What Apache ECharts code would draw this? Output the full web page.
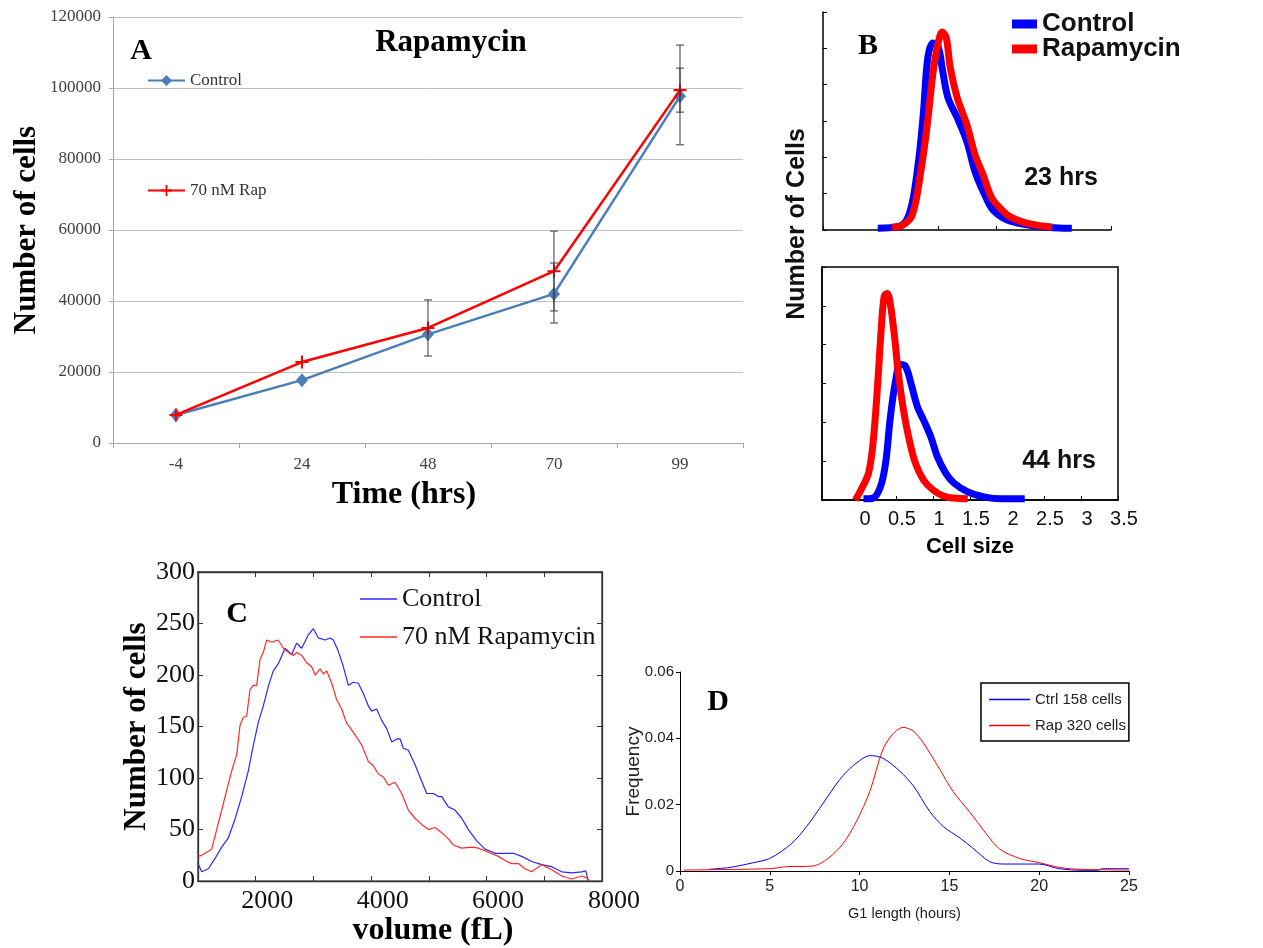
<!DOCTYPE html>
<html><head><meta charset="utf-8">
<script src="https://cdn.jsdelivr.net/npm/echarts@6/dist/echarts.min.js"></script>
<style>html,body{margin:0;padding:0;background:#fff}#c{width:1263px;height:948px}</style>
</head><body><div id="c"></div>
<script>
// ---------- Panel A ----------
const timeLabels = ['-4', '24', '48', '70', '99'];
const aControl = [7900, 17700, 30600, 42000, 97700];
const aRap = [7900, 22800, 32400, 48400, 99400];
const aErrRap = [[2, 24500, 40300], [3, 37200, 59700], [4, 93200, 105600]];
const aErrCtrl = [[3, 33800, 50700], [4, 84000, 112100]];
// ---------- Panel B (23 hrs) ----------
const bTopCtrl = [[-0.05,0.05],[0.34,0.11],[0.51,0.5],[0.65,1.79],[0.74,3.17],[0.82,4.74],[0.91,5.15],[1.0,5.04],[1.08,4.35],[1.17,3.64],[1.33,3.09],[1.5,2.42],[1.64,1.6],[1.81,0.96],[1.95,0.55],[2.19,0.28],[2.54,0.14],[2.82,0.08],[3.17,0.05],[3.32,0.05]];
const bTopRap = [[0.2,0.08],[0.39,0.14],[0.55,0.41],[0.69,1.52],[0.81,2.89],[0.91,4.33],[1.0,5.15],[1.07,5.45],[1.14,5.29],[1.21,4.46],[1.33,3.64],[1.5,2.89],[1.64,2.07],[1.78,1.52],[1.93,0.88],[2.07,0.61],[2.25,0.36],[2.54,0.19],[2.8,0.11],[2.98,0.08]];
// ---------- Panel B (44 hrs) ----------
const bBotCtrl = [[0.06,0.03],[0.19,0.05],[0.29,0.34],[0.36,0.96],[0.42,2.07],[0.49,3.02],[0.56,3.49],[0.63,3.44],[0.7,3.02],[0.79,2.4],[0.87,2.07],[0.97,1.63],[1.06,1.11],[1.17,0.7],[1.28,0.44],[1.47,0.21],[1.69,0.08],[1.92,0.03],[2.19,0.03],[2.24,0.03]];
const bBotRap = [[-0.05,0],[0.04,0.31],[0.13,0.7],[0.19,1.47],[0.25,2.92],[0.3,4.39],[0.34,5.24],[0.38,5.32],[0.42,5.09],[0.48,4.21],[0.53,3.28],[0.6,2.33],[0.67,1.63],[0.76,0.96],[0.87,0.52],[1.0,0.26],[1.14,0.1],[1.28,0.05],[1.47,0.03]];
const bSizeTicks = ['0', '0.5', '1', '1.5', '2', '2.5', '3', '3.5'];
// ---------- Panel C ----------
const cCtrl = [[800,17],[864,9],[980,12],[1095,22],[1211,33],[1326,42],[1441,60],[1557,82],[1672,107],[1759,132],[1845,154],[1932,170],[2018,189],[2105,204],[2192,211],[2308,226],[2423,220],[2510,231],[2597,226],[2712,239],[2799,245],[2886,236],[3001,234],[3088,236],[3145,234],[3232,223],[3319,208],[3405,190],[3492,193],[3578,192],[3665,182],[3752,170],[3810,165],[3897,167],[3983,156],[4070,148],[4157,135],[4243,138],[4301,138],[4359,129],[4445,127],[4561,113],[4676,97],[4763,85],[4878,85],[4965,82],[5023,82],[5138,72],[5254,69],[5370,61],[5484,50],[5629,39],[5774,31],[5947,27],[6120,27],[6264,27],[6409,24],[6582,19],[6756,16],[6929,14],[7103,9],[7276,8],[7449,9],[7518,10],[7564,0]];
const cRap = [[800,24],[864,25],[980,29],[1037,31],[1124,50],[1211,69],[1297,88],[1384,107],[1471,123],[1528,151],[1586,159],[1644,160],[1701,186],[1759,190],[1817,190],[1874,215],[1932,222],[1990,234],[2076,232],[2192,234],[2278,226],[2365,222],[2452,219],[2510,222],[2597,219],[2683,212],[2770,208],[2828,200],[2914,206],[2972,201],[3030,204],[3117,192],[3203,176],[3290,167],[3377,153],[3434,149],[3521,142],[3636,132],[3752,116],[3839,112],[3925,104],[4012,101],[4099,93],[4214,96],[4330,85],[4445,69],[4561,61],[4676,55],[4792,50],[4907,52],[5023,47],[5138,41],[5225,35],[5370,32],[5543,33],[5658,32],[5831,28],[6004,24],[6120,20],[6236,17],[6351,17],[6467,12],[6582,9],[6756,16],[6929,11],[7103,5],[7276,2],[7449,5],[7535,3],[7593,0]];
const cVolTicks = [1800, 2800, 3800, 4800, 5800, 6800];
const cVolLabels = [2000, 4000, 6000, 7800];
// ---------- Panel D ----------
const dCtrl = [[1.6,0.0005],[2.8,0.0011],[4.08,0.0025],[5.0,0.0038],[6.2,0.0082],[7.05,0.0134],[7.98,0.0205],[8.9,0.0276],[9.65,0.0318],[10.6,0.0348],[11.3,0.034],[12.24,0.0301],[13.0,0.0256],[13.9,0.018],[14.66,0.0134],[15.6,0.0099],[16.3,0.0069],[17.25,0.0028],[18.0,0.0021],[20.0,0.0021],[21.1,0.0007],[22.5,0.0002],[23.3,0.0002],[23.5,0.0007],[25,0.0007]];
const dRap = [[0.2,0.0003],[5,0.0007],[5.94,0.0013],[7.4,0.0015],[8.25,0.0038],[9.1,0.0084],[9.83,0.015],[10.57,0.024],[11.3,0.0367],[11.87,0.0414],[12.43,0.0433],[12.99,0.0422],[13.54,0.0387],[14.47,0.0306],[15.2,0.024],[16.1,0.018],[17.1,0.0109],[17.8,0.0066],[18.9,0.0038],[20.0,0.0025],[21.2,0.001],[22.3,0.0005],[25,0.0003]];

const SERIF = "'Liberation Serif','Times New Roman',serif";
const SANS = "'Liberation Sans',Arial,sans-serif";
const NARROW = "'Liberation Sans Narrow','Liberation Sans',Arial,sans-serif";
const strip = n => n.split('|')[1];
const plusPath = 'path://M4.2,0H5.8V4.2H10V5.8H5.8V10H4.2V5.8H0V4.2H4.2Z';

function errBar(params, api) {
  const x = api.value(0), lo = api.value(1), hi = api.value(2);
  const p1 = api.coord([x, lo]), p2 = api.coord([x, hi]);
  const w = 4, st = {stroke: '#3a3a3a', lineWidth: 1};
  return {type: 'group', children: [
    {type: 'line', shape: {x1: p1[0], y1: p1[1], x2: p2[0], y2: p2[1]}, style: st},
    {type: 'line', shape: {x1: p1[0]-w, y1: p1[1], x2: p1[0]+w, y2: p1[1]}, style: st},
    {type: 'line', shape: {x1: p2[0]-w, y1: p2[1], x2: p2[0]+w, y2: p2[1]}, style: st}
  ]};
}

const chart = echarts.init(document.getElementById('c'), null, {renderer: 'canvas'});
const blk = {onZero: false, lineStyle: {color: '#000', width: 1.5}};
const option = {
  animation: false,
  backgroundColor: '#fff',
  grid: [
    {left: 110, top: 17, width: 633, height: 426},
    {left: 823, top: 12, width: 288, height: 218},
    {left: 822, top: 267, width: 296, height: 233, show: true, borderColor: '#000', borderWidth: 1.5},
    {left: 198, top: 572, width: 404, height: 318, show: true, borderColor: '#333', borderWidth: 1.3},
    {left: 680, top: 672, width: 449, height: 199}
  ],
  xAxis: [
    {gridIndex: 0, type: 'category', data: timeLabels, boundaryGap: true,
     axisLine: {lineStyle: {color: '#a6a6a6', width: 1}},
     axisTick: {show: true, length: 5, lineStyle: {color: '#a6a6a6'}},
     axisLabel: {fontFamily: SERIF, fontSize: 17, color: '#404040', margin: 13},
     name: 'Time (hrs)', nameLocation: 'middle', nameGap: 36,
     nameTextStyle: {fontFamily: SERIF, fontSize: 32, fontWeight: 'bold', color: '#000', padding: [0, 48, 0, 0]}},
    {gridIndex: 1, type: 'value', min: -1, max: 4, interval: 1,
     axisLine: blk, axisTick: {inside: true, length: 4, lineStyle: {color: '#000'}},
     axisLabel: {show: false}, splitLine: {show: false}},
    {gridIndex: 2, type: 'value', min: -0.5, max: 3.5, interval: 0.5,
     axisLine: blk, axisTick: {inside: true, length: 4, lineStyle: {color: '#000'}},
     axisLabel: {interval: 0, fontFamily: SANS, fontSize: 20, color: '#111', margin: 9, padding: [0, 0, 0, 12],
       formatter: v => v < 0 ? '' : bSizeTicks[Math.round(v * 2)]},
     splitLine: {show: false},
     name: 'Cell size', nameLocation: 'middle', nameGap: 36,
     nameTextStyle: {fontFamily: SANS, fontSize: 22, fontWeight: 'bold', color: '#000'}},
    {gridIndex: 3, type: 'value', min: 800, max: 7800, interval: 1000,
     axisLine: {onZero: false, lineStyle: {color: '#333', width: 1.3}},
     axisTick: {inside: true, length: 5, customValues: cVolTicks, lineStyle: {color: '#333'}},
     axisLabel: {customValues: cVolLabels, fontFamily: SERIF, fontSize: 26, color: '#111', margin: 7,
       formatter: v => v === 7800 ? '{s|8000}' : String(v),
       rich: {s: {fontFamily: SERIF, fontSize: 26, color: '#111', padding: [0, 0, 0, 24]}}},
     splitLine: {show: false},
     name: 'volume (fL)', nameLocation: 'middle', nameGap: 24,
     nameTextStyle: {fontFamily: SERIF, fontSize: 32, fontWeight: 'bold', color: '#000', padding: [0, 0, 0, 66]}},
    {gridIndex: 3, type: 'value', position: 'top', min: 800, max: 7800, interval: 1000,
     axisLine: {onZero: false, lineStyle: {color: '#333', width: 1.3}},
     axisTick: {inside: true, length: 5, customValues: cVolTicks, lineStyle: {color: '#333'}},
     axisLabel: {show: false}, splitLine: {show: false}},
    {gridIndex: 4, type: 'value', min: 0, max: 25, interval: 5,
     axisLine: {onZero: false, lineStyle: {color: '#000', width: 1}},
     axisTick: {inside: false, length: 4, lineStyle: {color: '#000'}},
     axisLabel: {fontFamily: NARROW, fontSize: 16, color: '#222', margin: 8},
     splitLine: {show: false},
     name: 'G1 length (hours)', nameLocation: 'middle', nameGap: 35,
     nameTextStyle: {fontFamily: NARROW, fontSize: 14.5, color: '#222'}}
  ],
  yAxis: [
    {gridIndex: 0, type: 'value', min: 0, max: 120000, interval: 20000,
     axisLine: {show: true, onZero: false, lineStyle: {color: '#a6a6a6', width: 1}},
     axisTick: {show: true, length: 4, lineStyle: {color: '#a6a6a6'}},
     axisLabel: {fontFamily: SERIF, fontSize: 17, color: '#404040', margin: 12, formatter: v => String(v)},
     splitLine: {lineStyle: {color: '#bfbfbf', width: 1}},
     name: 'Number of cells', nameLocation: 'middle', nameGap: 70,
     nameTextStyle: {fontFamily: SERIF, fontSize: 31, fontWeight: 'bold', color: '#000'}},
    {gridIndex: 1, type: 'value', min: 0, max: 6, interval: 1,
     axisLine: {show: true, onZero: false, lineStyle: {color: '#000', width: 1.5}},
     axisTick: {show: true, inside: true, length: 4, lineStyle: {color: '#000'}},
     axisLabel: {show: false}, splitLine: {show: false}},
    {gridIndex: 2, type: 'value', min: 0, max: 6, interval: 1,
     axisLine: {show: true, onZero: false, lineStyle: {color: '#000', width: 1.5}},
     axisTick: {show: true, inside: true, length: 4, lineStyle: {color: '#000'}},
     axisLabel: {show: false}, splitLine: {show: false}},
    {gridIndex: 3, type: 'value', min: 0, max: 300, interval: 50,
     axisLine: {show: true, onZero: false, lineStyle: {color: '#333', width: 1.3}},
     axisTick: {show: true, inside: true, length: 5, lineStyle: {color: '#333'}},
     axisLabel: {fontFamily: SERIF, fontSize: 26, color: '#111', margin: 3, padding: [18, 0, 0, 0]},
     splitLine: {show: false},
     name: 'Number of cells', nameLocation: 'middle', nameGap: 45,
     nameTextStyle: {fontFamily: SERIF, fontSize: 31, fontWeight: 'bold', color: '#000'}},
    {gridIndex: 3, type: 'value', position: 'right', min: 0, max: 300, interval: 50,
     axisLine: {show: true, onZero: false, lineStyle: {color: '#333', width: 1.3}},
     axisTick: {show: true, inside: true, length: 5, lineStyle: {color: '#333'}},
     axisLabel: {show: false}, splitLine: {show: false}},
    {gridIndex: 4, type: 'value', min: 0, max: 0.06, interval: 0.02,
     axisLine: {show: true, onZero: false, lineStyle: {color: '#000', width: 1}},
     axisTick: {show: true, inside: false, length: 4, lineStyle: {color: '#000'}},
     axisLabel: {fontFamily: NARROW, fontSize: 15, color: '#222', margin: 6,
       formatter: v => v === 0 ? '0' : v.toFixed(2)},
     splitLine: {show: false},
     name: 'Frequency', nameLocation: 'middle', nameGap: 37, nameMoveOverlap: false,
     nameTextStyle: {fontFamily: SANS, fontSize: 19, color: '#222'}}
  ],
  legend: [
    {left: 147, top: 72, padding: 0, orient: 'vertical', itemGap: 93, itemWidth: 37, itemHeight: 14,
     data: ['A|Control', 'A|70 nM Rap'], formatter: strip, selectedMode: false,
     textStyle: {fontFamily: SERIF, fontSize: 17, color: '#333'}},
    {left: 1012, top: 11, padding: 0, orient: 'vertical', itemGap: -1, itemWidth: 25, itemHeight: 9, icon: 'rect',
     data: ['B|Control', 'B|Rapamycin'], formatter: strip, selectedMode: false,
     textStyle: {fontFamily: SANS, fontSize: 26, fontWeight: 'bold', color: '#111'}},
    {left: 360, top: 586, padding: 0, orient: 'vertical', itemGap: 12, itemWidth: 37, itemHeight: 1.5, icon: 'rect',
     data: ['C|Control', 'C|70 nM Rapamycin'], formatter: strip, selectedMode: false,
     textStyle: {fontFamily: SERIF, fontSize: 26, color: '#111'}},
    {left: 981, top: 683, orient: 'vertical', itemGap: 11, itemWidth: 41, itemHeight: 1.5, icon: 'rect',
     itemStyle: {borderWidth: 0},
     padding: [9, 3, 8, 8], borderColor: '#000', borderWidth: 1.5, backgroundColor: '#fff',
     data: ['D|Ctrl 158 cells', 'D|Rap 320 cells'], formatter: strip, selectedMode: false,
     textStyle: {fontFamily: NARROW, fontSize: 15, color: '#222'}}
  ],
  graphic: [
    {type: 'text', x: 141, y: 51, style: {text: 'A', font: "bold 30px " + SERIF, fill: '#000', align: 'center', verticalAlign: 'middle'}},
    {type: 'text', x: 451, y: 43, style: {text: 'Rapamycin', font: "bold 31px " + SERIF, fill: '#000', align: 'center', verticalAlign: 'middle'}},
    {type: 'text', x: 868, y: 46, style: {text: 'B', font: "bold 30px " + SERIF, fill: '#000', align: 'center', verticalAlign: 'middle'}},
    {type: 'text', x: 1061, y: 178, style: {text: '23 hrs', font: "bold 25px " + SANS, fill: '#111', align: 'center', verticalAlign: 'middle'}},
    {type: 'text', x: 1059, y: 461, style: {text: '44 hrs', font: "bold 25px " + SANS, fill: '#111', align: 'center', verticalAlign: 'middle'}},
    {type: 'text', x: 797, y: 224, rotation: Math.PI / 2, style: {text: 'Number of Cells', font: "bold 25px " + SANS, fill: '#111', align: 'center', verticalAlign: 'middle'}},
    {type: 'text', x: 237, y: 614, style: {text: 'C', font: "bold 30px " + SERIF, fill: '#000', align: 'center', verticalAlign: 'middle'}},
    {type: 'text', x: 718, y: 702, style: {text: 'D', font: "bold 30px " + SERIF, fill: '#000', align: 'center', verticalAlign: 'middle'}}
  ],
  series: [
    {name: 'A|Control', type: 'line', xAxisIndex: 0, yAxisIndex: 0, data: aControl,
     symbol: 'diamond', symbolSize: [12, 14], lineStyle: {color: '#4a7ebb', width: 2.5},
     itemStyle: {color: '#4a7ebb'}, z: 3},
    {name: 'A|70 nM Rap', type: 'line', xAxisIndex: 0, yAxisIndex: 0, data: aRap,
     symbol: plusPath, symbolSize: 13, lineStyle: {color: '#ff0000', width: 2.5},
     itemStyle: {color: '#ff0000'}, z: 4},
    {name: 'errRap', type: 'custom', xAxisIndex: 0, yAxisIndex: 0, data: aErrRap,
     renderItem: errBar, encode: {x: 0, y: [1, 2]}, z: 5},
    {name: 'errCtrl', type: 'custom', xAxisIndex: 0, yAxisIndex: 0, data: aErrCtrl,
     renderItem: errBar, encode: {x: 0, y: [1, 2]}, z: 5},

    {name: 'B|Control', type: 'line', xAxisIndex: 1, yAxisIndex: 1, data: bTopCtrl, symbol: 'none',
     smooth: 0.35, lineStyle: {color: '#0000ff', width: 7}, itemStyle: {color: '#0000ff'}},
    {name: 'B|Rapamycin', type: 'line', xAxisIndex: 1, yAxisIndex: 1, data: bTopRap, symbol: 'none',
     smooth: 0.35, lineStyle: {color: '#ff0000', width: 7}, itemStyle: {color: '#ff0000'}},
    {name: 'B|Control', type: 'line', xAxisIndex: 2, yAxisIndex: 2, data: bBotCtrl, symbol: 'none',
     smooth: 0.35, lineStyle: {color: '#0000ff', width: 7}, itemStyle: {color: '#0000ff'}},
    {name: 'B|Rapamycin', type: 'line', xAxisIndex: 2, yAxisIndex: 2, data: bBotRap, symbol: 'none',
     smooth: 0.35, lineStyle: {color: '#ff0000', width: 7}, itemStyle: {color: '#ff0000'}},

    {name: 'C|Control', type: 'line', xAxisIndex: 3, yAxisIndex: 3, data: cCtrl, symbol: 'none',
     lineStyle: {color: '#2828ff', width: 1.2}, itemStyle: {color: '#2828ff'}},
    {name: 'C|70 nM Rapamycin', type: 'line', xAxisIndex: 3, yAxisIndex: 3, data: cRap, symbol: 'none',
     lineStyle: {color: '#ff2a2a', width: 1.2}, itemStyle: {color: '#ff2a2a'}},

    {name: 'D|Ctrl 158 cells', type: 'line', xAxisIndex: 5, yAxisIndex: 5, data: dCtrl, symbol: 'none',
     smooth: 0.3, lineStyle: {color: '#0000ff', width: 1}, itemStyle: {color: '#0000ff'}},
    {name: 'D|Rap 320 cells', type: 'line', xAxisIndex: 5, yAxisIndex: 5, data: dRap, symbol: 'none',
     smooth: 0.3, lineStyle: {color: '#ff0000', width: 1}, itemStyle: {color: '#ff0000'}}
  ]
};
chart.setOption(option);
</script>
</body></html>
